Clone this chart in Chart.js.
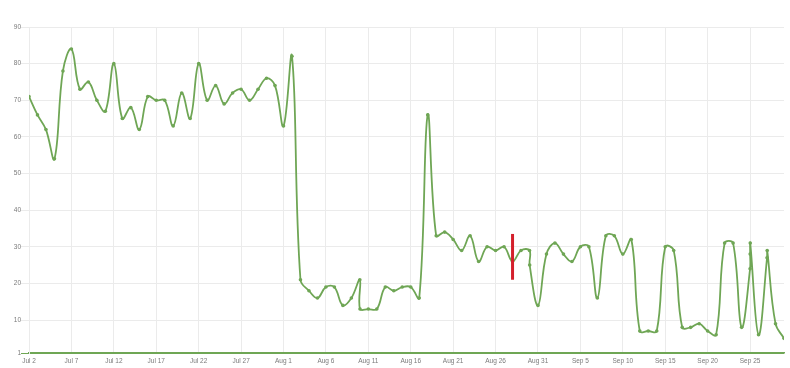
<!DOCTYPE html>
<html>
<head>
<meta charset="utf-8">
<script src="https://cdn.jsdelivr.net/npm/chart.js@4.4.0/dist/chart.umd.min.js"></script>
<style>
  html, body { margin: 0; padding: 0; background: #fff; }
  #wrap { width: 790px; height: 368px; }
</style>
</head>
<body>
<div id="wrap"><canvas id="chart"></canvas></div>
<script>
// days counted from Jul 2 (some days carry more than one reading)
const days = [
  0, 1, 2, 3, 4, 5, 6, 7, 8, 9,
  10, 11, 12, 13, 14, 15, 16, 17, 18, 19,
  20, 21, 22, 23, 24, 25, 26, 27, 28, 29,
  30, 31, 32, 33, 34, 35, 36, 37, 38, 39,
  39.02, 40, 41, 42, 43, 44, 45, 46, 47, 48,
  49, 50, 51, 52, 53, 54, 55, 56, 57, 58,
  59, 59.02, 60, 61, 62, 63, 64, 65, 66, 67,
  68, 69, 70, 71, 72, 73, 74, 75, 76, 77,
  78, 79, 80, 81, 82, 83, 84, 85, 85.01, 85.02,
  86, 87, 87.02, 88, 89
];
const values = [
  71, 66, 62, 54, 78, 84, 73, 75, 70, 67,
  80, 65, 68, 62, 71, 70, 70, 63, 72, 65,
  80, 70, 74, 69, 72, 73, 70, 73, 76, 74,
  63, 82, 21, 18, 16, 19, 19, 14, 16, 21,
  13, 13, 13, 19, 18, 19, 19, 16, 66, 33,
  34, 32, 29, 33, 26, 30, 29, 30, 26, 29,
  29, 25, 14, 28, 31, 28, 26, 30, 30, 16,
  33, 33, 28, 32, 7, 7, 7, 30, 29, 8,
  8, 9, 7, 6, 31, 31, 8, 24, 28, 31,
  6, 27, 29, 9, 5
];

// red marker (Aug 28)
const markerDays = [57, 57];
const markerValues = [21, 33.5];

const tickDays = [0, 5, 10, 15, 20, 25, 30, 35, 40, 45, 50, 55, 60, 65, 70, 75, 80, 85];
const tickLabels = ['Jul 2', 'Jul 7', 'Jul 12', 'Jul 17', 'Jul 22', 'Jul 27', 'Aug 1', 'Aug 6', 'Aug 11',
  'Aug 16', 'Aug 21', 'Aug 26', 'Aug 31', 'Sep 5', 'Sep 10', 'Sep 15', 'Sep 20', 'Sep 25'];
const yTicks = [1, 10, 20, 30, 40, 50, 60, 70, 80, 90];

const green = '#6fa655';
const gridColor = '#ebebeb';
const font = { family: "'Liberation Sans', Arial, sans-serif", size: 6.5 };

new Chart(document.getElementById('chart'), {
  type: 'line',
  data: {
    datasets: [{
      data: markerDays.map((d, i) => ({ x: d, y: markerValues[i] })),
      borderColor: '#d4202c',
      borderWidth: 3,
      pointRadius: 0,
      tension: 0
    }, {
      data: days.map((d, i) => ({ x: d, y: values[i] })),
      borderColor: green,
      backgroundColor: green,
      borderWidth: 1.8,
      pointRadius: 1.8,
      pointBorderWidth: 0,
      tension: 0.4,
      fill: false
    }]
  },
  options: {
    responsive: true,
    maintainAspectRatio: false,
    animation: false,
    layout: { padding: { top: 27, right: 6, bottom: 0, left: 0 } },
    plugins: { legend: { display: false }, tooltip: { enabled: false } },
    scales: {
      x: {
        type: 'linear',
        min: 0,
        max: 89,
        afterBuildTicks: s => { s.ticks = tickDays.map(v => ({ value: v })); },
        afterFit: s => { s.height = 15; },
        grid: { color: gridColor, drawTicks: false },
        border: { color: green, width: 1.5 },
        ticks: {
          font: font,
          color: '#7a7a7a',
          padding: 4,
          maxRotation: 0,
          autoSkip: false,
          callback: (v, i) => tickLabels[i]
        }
      },
      y: {
        min: 1,
        max: 90,
        afterBuildTicks: s => { s.ticks = yTicks.map(v => ({ value: v })); },
        afterFit: s => { s.width = 29; },
        grid: {
          color: c => (c.tick && c.tick.value === 1 ? green : gridColor),
          tickLength: 8
        },
        border: { color: gridColor },
        ticks: { font: font, color: '#7a7a7a', padding: 0 }
      }
    }
  }
});
</script>
</body>
</html>
